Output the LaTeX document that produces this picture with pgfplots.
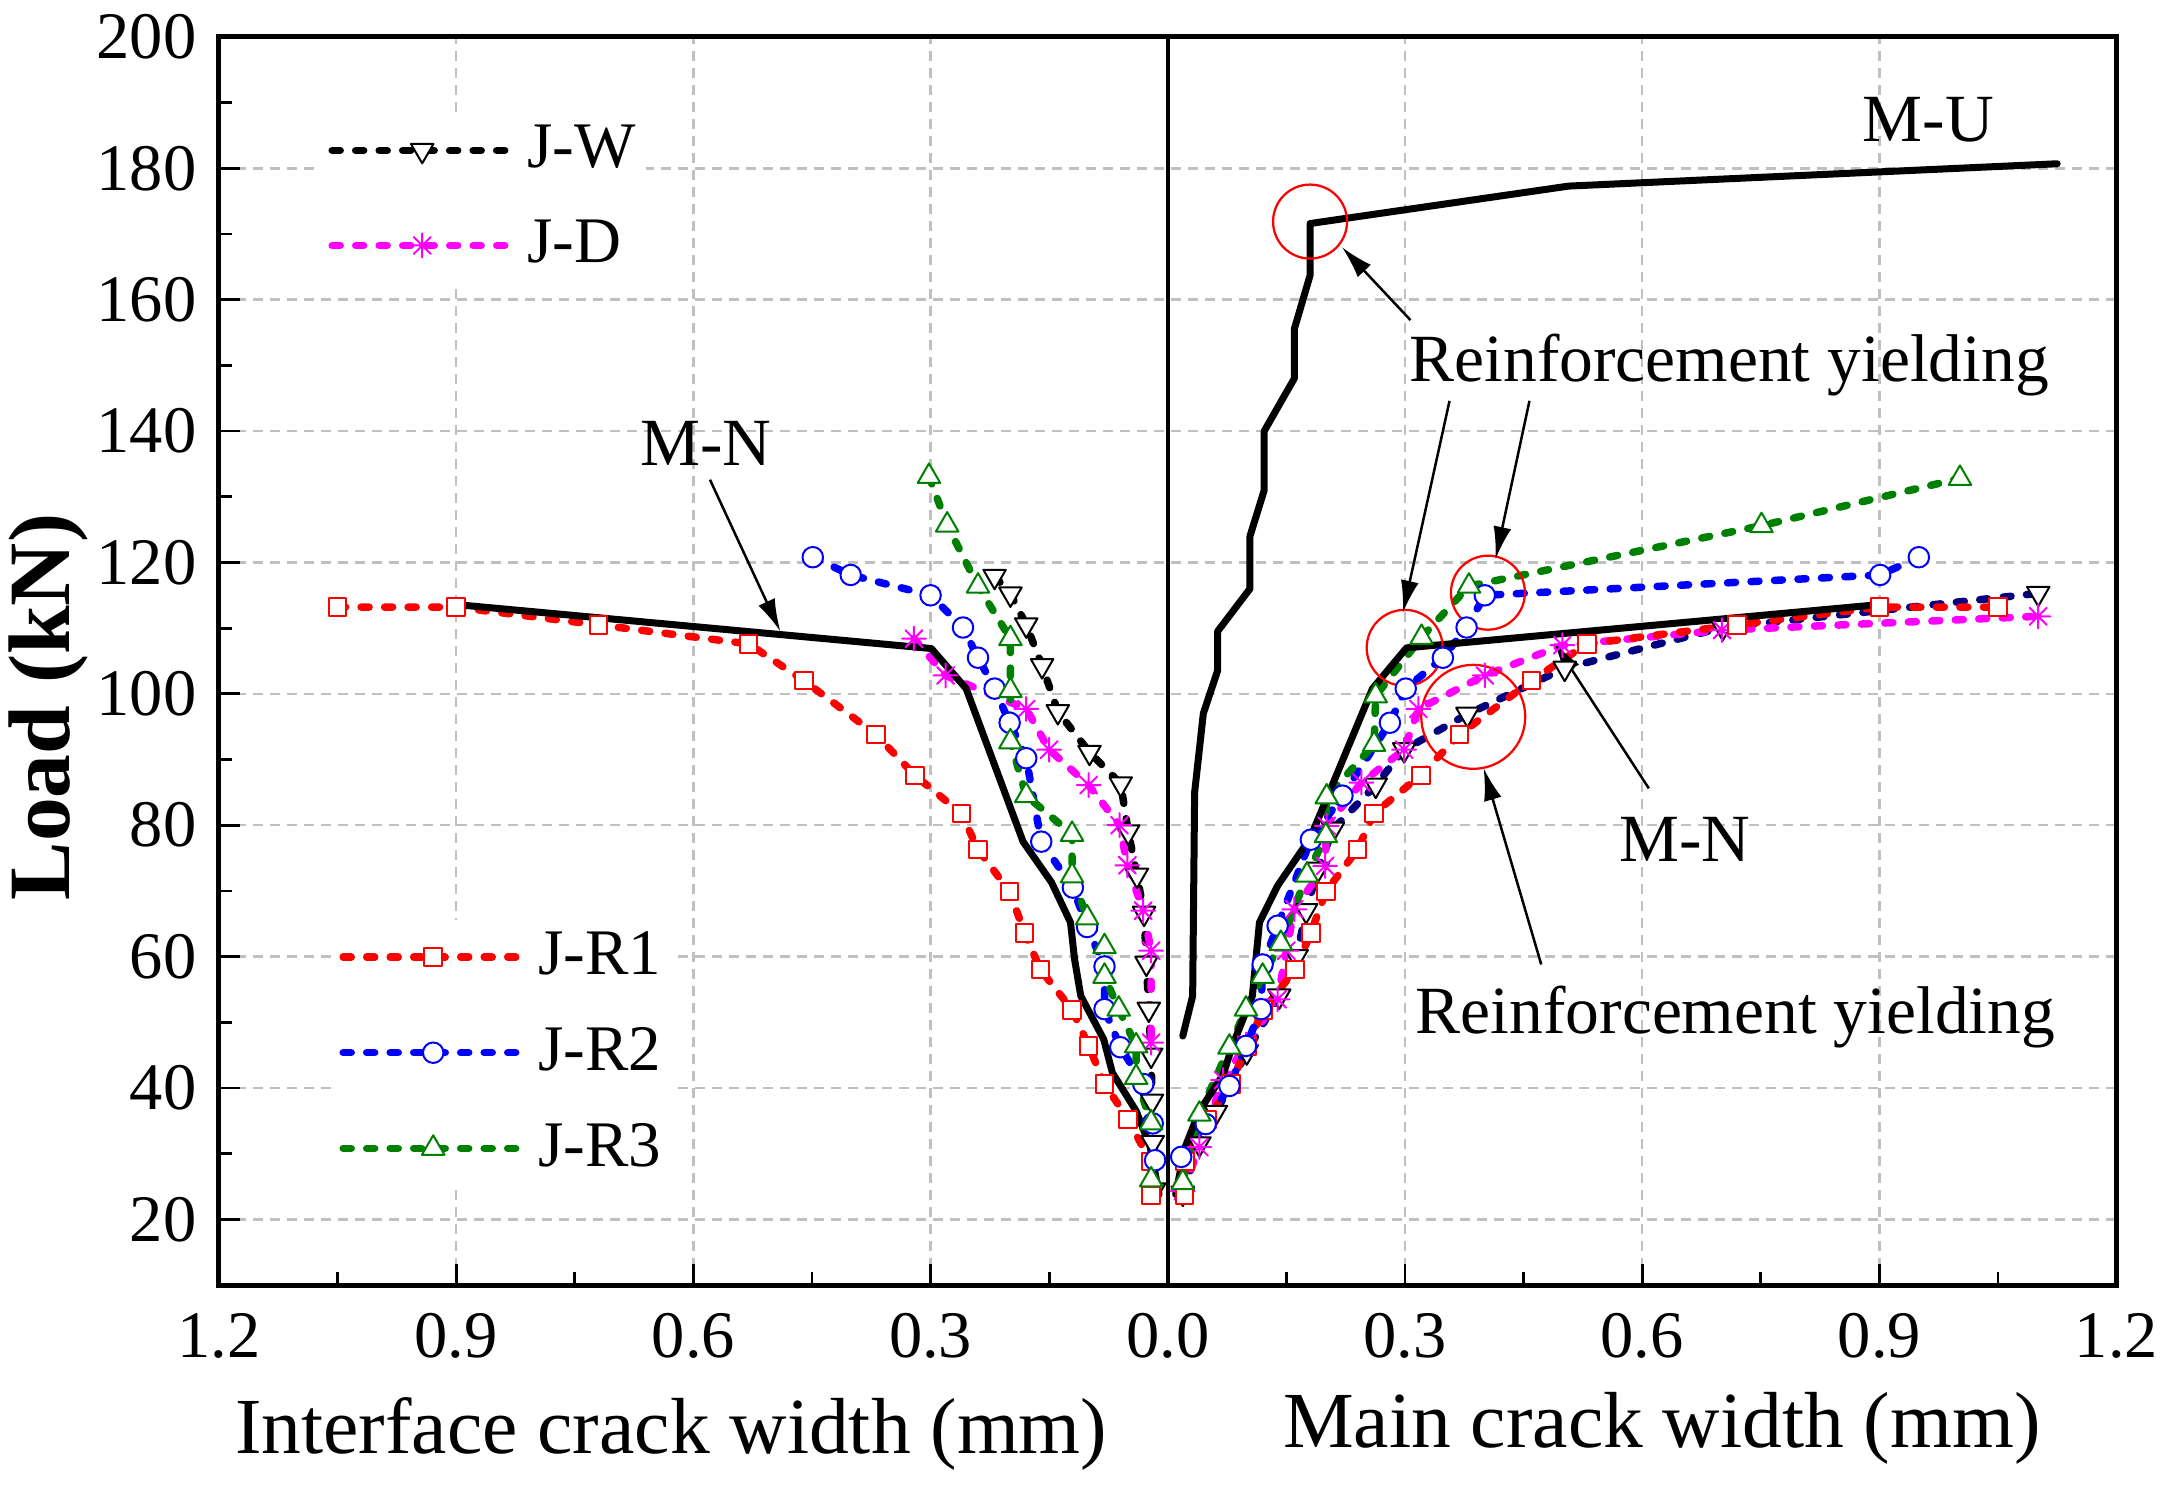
\documentclass[border=0pt]{standalone}
\usepackage{fontspec}
\setmainfont{Liberation Serif}
\usepackage{pgfplots}
\pgfplotsset{compat=1.18}
\usetikzlibrary{arrows.meta}
\definecolor{navyc}{RGB}{0,0,128}
\definecolor{greenc}{RGB}{0,128,0}
\definecolor{magc}{RGB}{255,0,255}
\definecolor{gridc}{RGB}{192,192,192}
\pgfdeclareplotmark{star8}{%
  \pgfpathmoveto{\pgfqpoint{-\pgfplotmarksize}{0pt}}\pgfpathlineto{\pgfqpoint{\pgfplotmarksize}{0pt}}%
  \pgfpathmoveto{\pgfqpoint{0pt}{-\pgfplotmarksize}}\pgfpathlineto{\pgfqpoint{0pt}{\pgfplotmarksize}}%
  \pgfpathmoveto{\pgfqpoint{-0.707\pgfplotmarksize}{-0.707\pgfplotmarksize}}\pgfpathlineto{\pgfqpoint{0.707\pgfplotmarksize}{0.707\pgfplotmarksize}}%
  \pgfpathmoveto{\pgfqpoint{-0.707\pgfplotmarksize}{0.707\pgfplotmarksize}}\pgfpathlineto{\pgfqpoint{0.707\pgfplotmarksize}{-0.707\pgfplotmarksize}}%
  \pgfusepathqstroke}
\pgfplotsset{
  dl/.style={line width=1.5pt, dash pattern=on 1.6pt off 3.1pt, line cap=round, line join=round},
  jw/.style={black, dl, mark=triangle*, mark size=2.6pt, mark options={solid, rotate=180, fill=white, draw=black, line width=0.4pt}},
  jwr/.style={navyc, dl, mark=triangle*, mark size=2.6pt, mark options={solid, rotate=180, fill=white, draw=black, line width=0.4pt}},
  jd/.style={magc, dl, mark=star8, mark size=2.4pt, mark options={solid, line width=0.4pt}},
  jr1/.style={red, dl, mark=square*, mark size=1.75pt, mark options={solid, fill=white, line width=0.4pt}},
  jr2/.style={blue, dl, mark=*, mark size=2.05pt, mark options={solid, fill=white, line width=0.4pt}},
  jr3/.style={greenc, dl, mark=triangle*, mark size=2.6pt, mark options={solid, fill=white, line width=0.4pt}},
  mline/.style={black, line width=1.4pt, line join=round, line cap=round, no marks},
  basestyle/.style={
    at={(0pt,0pt)}, anchor=south west,
    scale only axis, width=379.5pt, height=249.6pt,
    xmin=-1.2, xmax=1.2, ymin=10, ymax=200,
    legend cell align=left,
    legend image code/.code={\draw[mark repeat=2,mark phase=2,##1] plot coordinates {(0pt,0pt) (18pt,0pt) (36pt,0pt)};},
  },
}
\begin{document}
\begin{tikzpicture}
\useasboundingbox (-43.8pt,-40.2pt) rectangle (392.4pt,257pt);
\begin{axis}[
  basestyle,
  xtick={-1.2,-0.9,-0.6,-0.3,0,0.3,0.6,0.9,1.2},
  xticklabels={1.2,0.9,0.6,0.3,0.0,0.3,0.6,0.9,1.2},
  ytick={20,40,...,200},
  minor xtick={-1.05,-0.75,-0.45,-0.15,0.15,0.45,0.75,1.05},
  minor ytick={30,50,...,190},
  tick align=inside,
  xtick pos=left, ytick pos=left,
  grid=major,
  major grid style={gridc, line width=0.5pt, dash pattern=on 2pt off 1.4pt},
  axis line style={line width=1pt},
  every tick/.style={black, line width=0.55pt},
  major tick length=4.2pt, minor tick length=2.5pt,
  tick label style={font=\fontsize{13.3}{14}\selectfont},
  /pgf/number format/assume math mode=true,
  yticklabel style={xshift=-1pt},
  xticklabel style={yshift=-2.2pt},
  clip=false,
  legend style={draw=none, fill=white, at={(0.0532,0.940)}, anchor=north west,
    font=\fontsize{13}{13}\selectfont, inner xsep=1.5pt, inner ysep=2pt, row sep=8pt,
    nodes={inner sep=0.5pt},
    /tikz/every odd column/.append style={column sep=1.8pt}},
]
% J-W interface (black)
\addplot[jw] coordinates {(-0.219,117.9) (-0.199,115.2) (-0.179,110.5) (-0.159,104.3) (-0.139,97.3) (-0.099,91.1) (-0.0595,86.3) (-0.050,79.0) (-0.039,72.4) (-0.030,66.6) (-0.027,59.0) (-0.024,52.0) (-0.021,45.0) (-0.020,38.0) (-0.019,31.7) (-0.017,24.5)};
\addlegendentry{J-W}
% J-D interface
\addplot[jd] coordinates {(-0.321,108.4) (-0.281,102.8) (-0.179,97.7) (-0.150,91.5) (-0.100,86.1) (-0.061,80.0) (-0.051,73.9) (-0.031,67.0) (-0.021,60.9) (-0.021,46.9)};
\addlegendentry{J-D}
% J-W main (navy)
\addplot[jwr, forget plot] coordinates {(0.019,24.0) (0.040,31.5) (0.061,36.3) (0.100,45.5) (0.141,54.0) (0.163,60.0) (0.175,67.0) (0.190,73.3) (0.209,79.4) (0.263,86.1) (0.299,91.5) (0.379,96.9) (0.502,103.9) (0.702,110.1) (1.101,115.3)};
% J-D main
\addplot[jd, forget plot] coordinates {(0.019,24.3) (0.040,31.0) (0.070,41.2) (0.099,46.6) (0.139,53.5) (0.150,60.9) (0.160,67.2) (0.199,73.8) (0.201,79.9) (0.245,86.5) (0.299,91.5) (0.317,97.7) (0.401,102.8) (0.499,107.4) (0.701,109.7) (1.101,111.8)};
% J-R1
\addplot[jr1, forget plot] coordinates {(-1.050,113.2) (-0.900,113.2) (-0.720,110.5) (-0.530,107.6) (-0.460,102.0) (-0.369,93.8) (-0.320,87.6) (-0.261,81.8) (-0.240,76.3) (-0.200,69.9) (-0.181,63.6) (-0.161,58.0) (-0.121,51.9) (-0.100,46.4) (-0.080,40.6) (-0.050,35.2) (-0.022,28.8) (-0.021,23.6)};
\addplot[jr1, forget plot] coordinates {(0.021,23.6) (0.022,28.8) (0.050,35.2) (0.080,40.6) (0.100,46.4) (0.121,51.9) (0.161,58.0) (0.181,63.6) (0.200,69.9) (0.240,76.3) (0.261,81.8) (0.320,87.6) (0.369,93.8) (0.460,102.0) (0.530,107.6) (0.720,110.5) (0.900,113.2) (1.050,113.2)};
% J-R2
\addplot[jr2, forget plot] coordinates {(-0.449,120.8) (-0.401,118.1) (-0.300,115.0) (-0.259,110.1) (-0.240,105.5) (-0.219,100.8) (-0.200,95.6) (-0.179,90.2) (-0.160,77.5) (-0.120,70.5) (-0.102,64.5) (-0.080,58.5) (-0.080,52.0) (-0.060,46.2) (-0.031,40.6) (-0.019,34.6) (-0.016,29.0)};
\addplot[jr2, forget plot] coordinates {(0.017,29.5) (0.048,34.5) (0.078,40.3) (0.099,46.4) (0.118,52.0) (0.120,58.8) (0.139,64.7) (0.181,77.8) (0.221,84.5) (0.281,95.6) (0.301,100.8) (0.348,105.5) (0.378,110.1) (0.401,115.0) (0.901,118.1) (0.950,120.8)};
% J-R3
\addplot[jr3, forget plot] coordinates {(-0.302,133.1) (-0.279,125.7) (-0.240,116.4) (-0.199,108.4) (-0.199,100.5) (-0.199,92.7) (-0.179,84.5) (-0.121,78.6) (-0.121,72.3) (-0.102,65.9) (-0.080,61.5) (-0.080,57.0) (-0.062,52.0) (-0.040,46.4) (-0.040,41.6) (-0.021,34.7) (-0.021,26.0)};
\addplot[jr3, forget plot] coordinates {(0.019,25.6) (0.040,36.0) (0.078,46.2) (0.099,52.0) (0.120,57.0) (0.143,62.0) (0.176,72.4) (0.200,78.4) (0.201,84.3) (0.261,92.3) (0.263,99.7) (0.321,108.6) (0.381,116.4) (0.751,125.6) (1.002,132.8)};
% M-N
\addplot[mline, forget plot] coordinates {(-0.011,23.8) (-0.022,31.0) (-0.040,36.5) (-0.070,42.3) (-0.081,47.4) (-0.110,54.0) (-0.118,59.7) (-0.123,65.2) (-0.147,71.3) (-0.183,77.5) (-0.255,100.8) (-0.299,106.9) (-0.901,113.6)};
\addplot[mline, forget plot] coordinates {(0.010,23.8) (0.022,31.0) (0.040,36.5) (0.070,42.0) (0.082,46.5) (0.107,54.0) (0.116,65.2) (0.139,70.8) (0.180,78.0) (0.259,100.8) (0.302,107.0) (0.901,113.6)};
% M-U
\addplot[mline, forget plot] coordinates {(0.019,47.9) (0.0315,54.0) (0.034,85.0) (0.045,97.0) (0.063,103.5) (0.063,109.5) (0.104,116.0) (0.104,124.0) (0.122,131.0) (0.122,140.0) (0.160,148.0) (0.160,155.5) (0.180,163.7) (0.180,171.6) (0.507,177.3) (1.125,180.7)};
% centre line
\draw[line width=0.7pt] (axis cs:0,10) -- (axis cs:0,200);
% red circles
\draw[red, line width=0.45pt] (axis cs:0.180,171.9) circle[radius=7.4pt];
\draw[red, line width=0.45pt] (axis cs:0.2997,107.0) circle[radius=7.6pt];
\draw[red, line width=0.45pt] (axis cs:0.405,115.4) circle[radius=7.4pt];
\draw[red, line width=0.45pt] (axis cs:0.3864,96.5) circle[radius=10.4pt];
% arrows
\tikzset{arr/.style={line width=0.5pt, -{Latex[length=6.5pt,width=3.6pt]}}}
\draw[arr] (axis cs:-0.579,132.6) -- (axis cs:-0.490,109.5);
\draw[arr] (axis cs:0.6085,85.6) -- (axis cs:0.4883,107.9);
\draw[arr] (axis cs:0.307,156.9) -- (axis cs:0.2204,168.0);
\draw[arr] (axis cs:0.3564,144.6) -- (axis cs:0.2973,112.3);
\draw[arr] (axis cs:0.4575,144.6) -- (axis cs:0.4146,120.5);
\draw[arr] (axis cs:0.4724,58.8) -- (axis cs:0.3995,88.7);
% annotation texts
\tikzset{ann/.style={font=\fontsize{13.5}{14}\selectfont, anchor=base, inner sep=0pt}}
\node[ann] at (axis cs:0.962,184.1) {M-U};
\node[ann] at (axis cs:-0.584,134.7) {M-N};
\node[ann] at (axis cs:0.654,74.4) {M-N};
\node[ann] at (axis cs:0.710,147.6) {Reinforcement yielding};
\node[ann] at (axis cs:0.718,48.3) {Reinforcement yielding};
% axis labels
\node[font=\fontsize{15.9}{16}\selectfont, anchor=base, inner sep=0pt] at ([yshift=-33.6pt]axis cs:-0.628,10) {Interface crack width (mm)};
\node[font=\fontsize{15.9}{16}\selectfont, anchor=base, inner sep=0pt] at ([yshift=-32.4pt]axis cs:0.625,10) {Main crack width (mm)};
\node[font=\fontsize{17.5}{18}\selectfont\bfseries, rotate=90, anchor=base, inner sep=0pt] at ([xshift=-29.8pt]axis cs:-1.2,98) {Load (kN)};
\end{axis}
\begin{axis}[
  basestyle, hide axis,
  legend style={draw=none, fill=white, at={(0.059,0.0785)}, anchor=south west,
    font=\fontsize{13}{13}\selectfont, inner xsep=1.5pt, inner ysep=2pt, row sep=8pt,
    nodes={inner sep=0.5pt},
    /tikz/every odd column/.append style={column sep=1.8pt}},
]
\addlegendimage{jr1}\addlegendentry{J-R1}
\addlegendimage{jr2}\addlegendentry{J-R2}
\addlegendimage{jr3}\addlegendentry{J-R3}
\end{axis}
\end{tikzpicture}
\end{document}
